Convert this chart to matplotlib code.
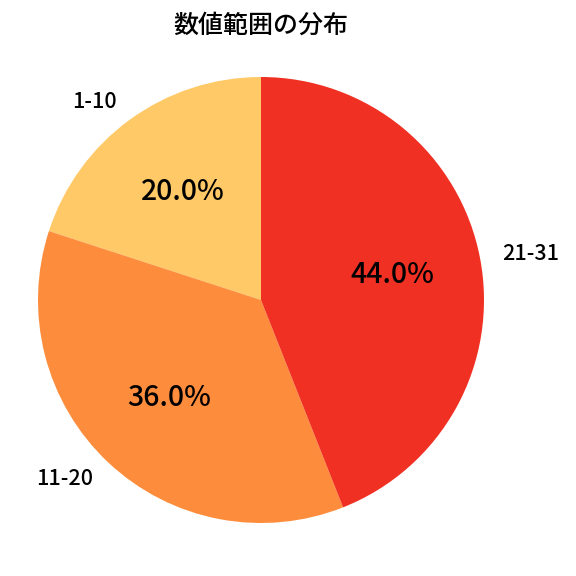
import matplotlib.pyplot as plt

plt.rcParams['font.family'] = ['Noto Sans CJK JP', 'DejaVu Sans']

labels = ['1-10', '11-20', '21-31']
shares = [20.0, 36.0, 44.0]
colors = ['#fec966', '#fd8d3c', '#f03023']

fig = plt.figure(figsize=(5.76, 5.76), dpi=100)
# pie radius about 223 px, centred near (261, 300)
r = 223 / 576
ax = fig.add_axes([261 / 576 - r, (576 - 300) / 576 - r, 2 * r, 2 * r])
wedges, texts, autotexts = ax.pie(
    shares, labels=labels, colors=colors, autopct='%1.1f%%',
    startangle=90, pctdistance=0.6, labeldistance=1.1,
    textprops={'fontsize': 15.5, 'fontweight': 'medium'})
for t in autotexts:
    t.set_fontsize(20.5)
ax.set_xlim(-1, 1)
ax.set_ylim(-1, 1)
ax.set_aspect('equal')
fig.text(261 / 576, 1 - 26 / 576, '数値範囲の分布', fontsize=18,
         fontweight='medium', ha='center', va='center')
plt.savefig('out.png')
